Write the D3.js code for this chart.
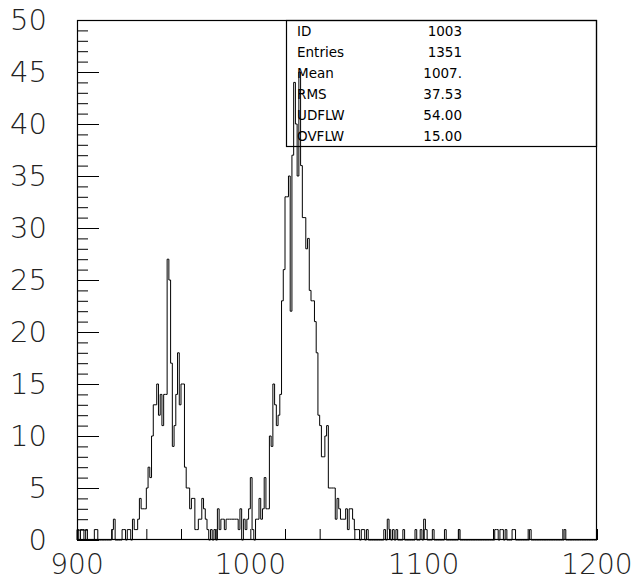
<!DOCTYPE html>
<html>
<head>
<meta charset="utf-8">
<script src="https://cdn.jsdelivr.net/npm/d3@7"></script>
<style>
  html, body { margin: 0; padding: 0; background: #fff; }
  svg { display: block; }
  .lbl { font-family: "DejaVu Sans", sans-serif; font-weight: 200; fill: #222; }
  .stat { font-family: "DejaVu Sans", sans-serif; font-weight: normal; fill: #000; font-size: 13.5px; }
</style>
</head>
<body>
<svg id="c" width="641" height="580"></svg>
<script>
// ---- data ----
const binStart = 900;          // lower edge of first bin
const binWidth = 1;
const counts = [
  // 900-919
  1,0,1,1,0,1,0,0,0,0, 1,1,0,0,0,0,0,0,0,0,
  // 920-939
  1,2,0,0,0,0,1,1,0,1, 1,0,2,1,1,2,4,3,3,3,
  // 940-959
  5,7,6,10,13,13,15,12,14,11, 14,14,27,25,17,9,11,14,18,13,
  // 960-979
  15,15,7,5,5,3,4,4,1,1, 2,2,4,3,2,1,0,1,0,1,
  // 980-999
  0,3,1,2,2,1,2,2,2,2, 2,2,2,1,3,0,2,1,2,3,
  // 1000-1019
  6,1,0,2,2,4,2,3,6,3, 3,10,9,15,13,11,12,14,23,26,
  // 1020-1039
  33,33,35,22,37,44,40,35,45,36, 31,31,28,29,24,23,23,21,18,12,
  // 1040-1059
  11,8,8,10,11,5,5,5,5,2, 4,3,2,2,2,3,1,3,3,2,
  // 1060-1079
  1,1,1,0,1,1,0,1,0,0, 0,0,0,0,0,0,0,1,0,2,
  // 1080-1099
  1,0,1,0,1,0,0,0,1,0, 0,0,0,0,0,1,0,0,1,0,
  // 1100-1119
  2,1,0,0,0,1,0,0,0,0, 0,0,1,0,0,0,0,0,0,0,
  // 1120-1139
  1,0,0,0,0,0,0,0,0,0, 0,0,0,0,0,0,0,0,0,0,
  // 1140-1159
  0,1,1,0,1,1,0,1,0,0, 0,1,1,0,0,0,0,0,0,0,
  // 1160-1179
  0,1,0,0,0,0,0,0,0,0, 0,0,0,0,0,0,0,0,0,0,
  // 1180-1199
  0,1,0,0,0,0,0,0,0,0, 0,0,0,0,0,0,0,0,0,0
];
const xDomain = [900, 1200];
const yDomain = [0, 50];
const xMajorTicks = [900, 1000, 1100, 1200];
const xMinorStep = 20;
const yMajorTicks = [0, 5, 10, 15, 20, 25, 30, 35, 40, 45, 50];
const yMinorStep = 1;
const statLabels = ["ID", "Entries", "Mean", "RMS", "UDFLW", "OVFLW"];
const statValues = ["1003", "1351", "1007.", "37.53", "54.00", "15.00"];

// ---- layout ----
const L = 77, T = 20, W = 520, H = 520;
const svg = d3.select("#c");
const x = d3.scaleLinear().domain(xDomain).range([L, L + W]);
const y = d3.scaleLinear().domain(yDomain).range([T + H, T]);

// histogram outline
const pts = [[x(binStart), y(0)]];
counts.forEach((v, i) => {
  const lo = binStart + i * binWidth, hi = lo + binWidth;
  pts.push([x(lo), y(v)]);
  pts.push([x(hi), y(v)]);
});
pts.push([x(binStart + counts.length * binWidth), y(0)]);
svg.append("path")
  .attr("d", d3.line()(pts))
  .attr("fill", "none")
  .attr("stroke", "#000")
  .attr("stroke-width", 1);

// frame
svg.append("rect")
  .attr("x", L + 0.5).attr("y", T + 0.5)
  .attr("width", W - 1).attr("height", H - 1)
  .attr("fill", "none").attr("stroke", "#000").attr("stroke-width", 1.2);

// y axis ticks (inside)
const yMinor = d3.range(yDomain[0], yDomain[1] + 0.001, yMinorStep);
const gyMinor = svg.append("g").attr("transform", `translate(${L},0)`)
  .call(d3.axisRight(y).tickValues(yMinor).tickSize(11).tickFormat(""));
const gyMajor = svg.append("g").attr("transform", `translate(${L},0)`)
  .call(d3.axisRight(y).tickValues(yMajorTicks).tickSize(22).tickFormat(""));
[gyMinor, gyMajor].forEach(g => { g.select(".domain").remove(); g.selectAll("line").attr("stroke", "#000"); });

// x axis ticks (inside)
const xMinor = d3.range(xDomain[0], xDomain[1] + 0.001, xMinorStep);
const gxMinor = svg.append("g").attr("transform", `translate(0,${T + H})`)
  .call(d3.axisTop(x).tickValues(xMinor).tickSize(11).tickFormat(""));
gxMinor.select(".domain").remove();
gxMinor.selectAll("line").attr("stroke", "#000");

// y labels
svg.append("g").selectAll("text").data(yMajorTicks).join("text")
  .attr("class", "lbl")
  .attr("x", 47).attr("y", d => y(d))
  .attr("text-anchor", "end")
  .attr("dominant-baseline", "central")
  .attr("font-size", 29)
  .text(d => d);

// x labels
svg.append("g").selectAll("text").data(xMajorTicks).join("text")
  .attr("class", "lbl")
  .attr("x", d => x(d)).attr("y", 573.5)
  .attr("text-anchor", "middle")
  .attr("font-size", 28)
  .text(d => d);

// stats box
const bx = 286, by = 20, bw = 311, bh = 126;
svg.append("rect").attr("x", bx + 0.5).attr("y", by + 0.5).attr("width", bw - 1).attr("height", bh)
  .attr("fill", "none").attr("stroke", "#000").attr("stroke-width", 1.2);
const rowY = d3.scaleLinear().domain([0, 5]).range([31, 136]);
svg.append("g").selectAll("text").data(statLabels).join("text")
  .attr("class", "stat").attr("x", 297).attr("y", (d, i) => rowY(i))
  .attr("dominant-baseline", "central").text(d => d);
svg.append("g").selectAll("text").data(statValues).join("text")
  .attr("class", "stat").attr("x", 462).attr("y", (d, i) => rowY(i))
  .attr("text-anchor", "end")
  .attr("dominant-baseline", "central").text(d => d);
</script>
</body>
</html>
